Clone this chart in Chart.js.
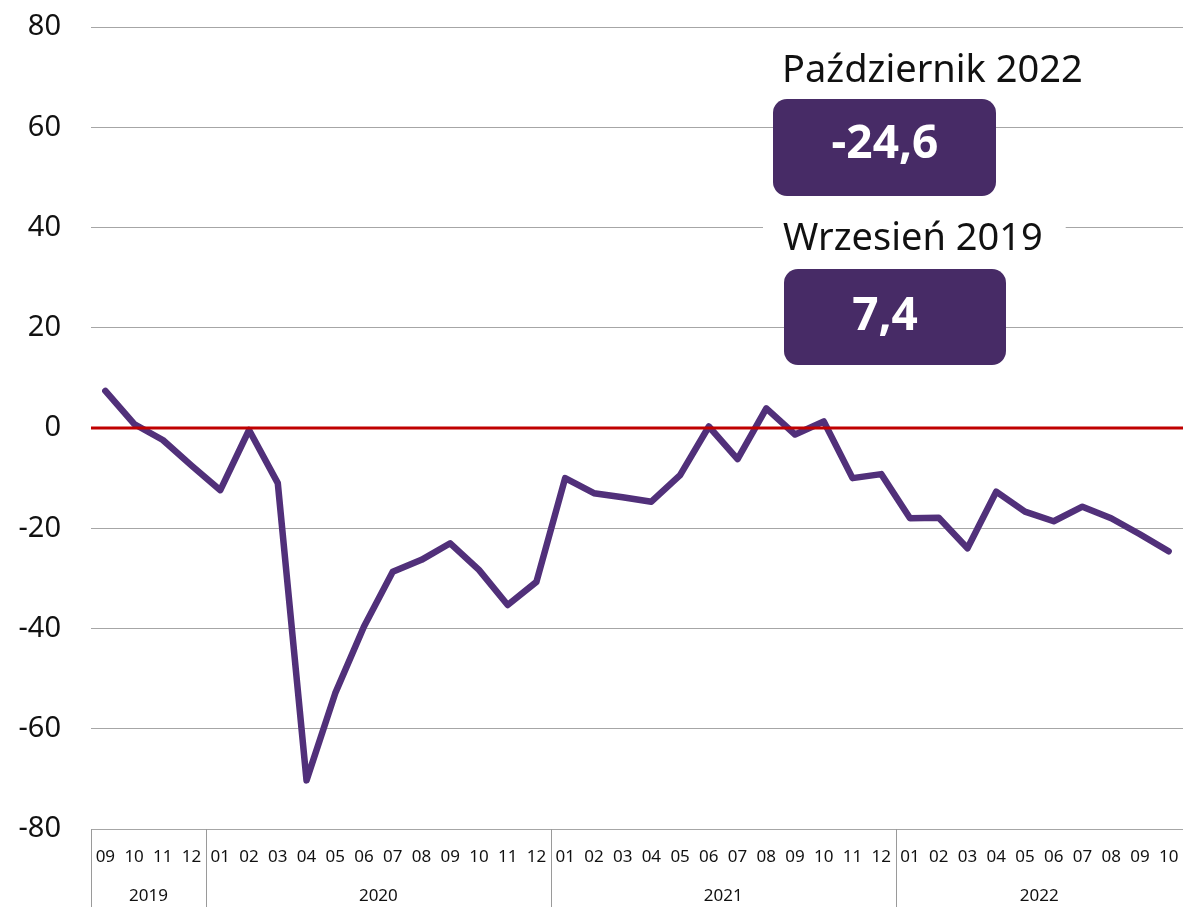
<!DOCTYPE html>
<html>
<head>
<meta charset="utf-8">
<script src="https://cdn.jsdelivr.net/npm/chart.js@4.4.0/dist/chart.umd.min.js"></script>
<style>
  html, body { margin: 0; padding: 0; background: #fff; }
  canvas { display: block; }
</style>
</head>
<body>
<canvas id="chart" width="1183" height="907"></canvas>
<script>
// months shown on the axis, grouped by year
const months = ['09', '10', '11', '12',
  '01', '02', '03', '04', '05', '06', '07', '08', '09', '10', '11', '12',
  '01', '02', '03', '04', '05', '06', '07', '08', '09', '10', '11', '12',
  '01', '02', '03', '04', '05', '06', '07', '08', '09', '10'];
const years = ['2019', '2020', '2021', '2022'];
const monthsPerYear = [4, 12, 12, 10];

const values = [7.4, 0.8, -2.4, -7.5,
  -12.4, -0.4, -11.0, -70.3, -52.9, -39.6, -28.7, -26.3, -23.0, -28.3, -35.3, -30.7,
  -10.0, -13.0, -13.8, -14.7, -9.4, 0.3, -6.2, 3.9, -1.3, 1.3, -10.0, -9.2,
  -18.0, -17.9, -24.0, -12.7, -16.7, -18.6, -15.7, -18.0, -21.2, -24.6];

const yMin = -80, yMax = 80, yStep = 20;

// callouts: title + index of the value shown in the box
const calloutTitles = ['Październik 2022', 'Wrzesień 2019'];
const calloutIndex = [values.length - 1, 0];

const FONT = 'Noto Sans';
const boxColor = '#472b66';

function fmt(v) {
  return v.toFixed(1).replace('.', ',');
}

const extras = {
  id: 'extras',
  afterDatasetsDraw(chart) {
    const { ctx, chartArea, scales: { x, y } } = chart;
    ctx.save();

    // zero line
    const y0 = y.getPixelForValue(0);
    ctx.strokeStyle = '#c00000';
    ctx.lineWidth = 3;
    ctx.beginPath();
    ctx.moveTo(chartArea.left, y0);
    ctx.lineTo(chartArea.right, y0);
    ctx.stroke();

    // year separators and labels under the months
    ctx.strokeStyle = '#9a9a9a';
    ctx.lineWidth = 1;
    ctx.fillStyle = '#111';
    ctx.font = '17px "' + FONT + '"';
    ctx.textAlign = 'center';
    ctx.textBaseline = 'middle';
    let start = 0;
    years.forEach((yr, i) => {
      const end = start + monthsPerYear[i] - 1;
      const sepX = i === 0 ? chartArea.left
        : (x.getPixelForTick(start - 1) + x.getPixelForTick(start)) / 2;
      ctx.beginPath();
      ctx.moveTo(Math.round(sepX) + 0.5, chartArea.bottom);
      ctx.lineTo(Math.round(sepX) + 0.5, chart.height);
      ctx.stroke();
      const cx = (x.getPixelForTick(start) + x.getPixelForTick(end)) / 2;
      ctx.fillText(yr, cx, chartArea.bottom + 67);
      start = end + 1;
    });
    ctx.restore();
  },
  afterDraw(chart) {
    const { ctx } = chart;
    const spots = [
      { tx: 782, ty: 82, bx: 773, by: 99, bw: 223, bh: 97, vy: 158 },
      { tx: 783, ty: 250, bx: 784, by: 269, bw: 222, bh: 96, vy: 330 }
    ];
    ctx.save();
    calloutTitles.forEach((title, i) => {
      const s = spots[i];
      ctx.font = '38px "' + FONT + '"';
      const w = ctx.measureText(title).width;
      ctx.fillStyle = '#fff';
      ctx.fillRect(s.tx - 20, s.ty - 34, w + 43, 44);
      ctx.fillStyle = '#111';
      ctx.textAlign = 'left';
      ctx.textBaseline = 'alphabetic';
      ctx.fillText(title, s.tx, s.ty);

      ctx.fillStyle = boxColor;
      ctx.beginPath();
      ctx.roundRect(s.bx, s.by, s.bw, s.bh, 14);
      ctx.fill();

      ctx.fillStyle = '#fff';
      ctx.font = 'bold 46px "' + FONT + '"';
      ctx.textAlign = 'center';
      ctx.fillText(fmt(values[calloutIndex[i]]), 885, s.vy);
    });
    ctx.restore();
  }
};

new Chart(document.getElementById('chart'), {
  type: 'line',
  data: {
    labels: months,
    datasets: [{
      data: values,
      borderColor: '#51307a',
      borderWidth: 6.5,
      pointRadius: 0,
      tension: 0,
      fill: false,
      borderCapStyle: 'round',
      borderJoinStyle: 'round'
    }]
  },
  options: {
    responsive: false,
    animation: false,
    layout: { padding: { top: 27, right: 0, bottom: 0, left: 0 } },
    plugins: {
      legend: { display: false },
      tooltip: { enabled: false }
    },
    scales: {
      x: {
        offset: true,
        grid: { display: false, drawTicks: false },
        border: { display: false },
        ticks: {
          autoSkip: false,
          maxRotation: 0,
          color: '#111',
          font: { family: FONT, size: 17 },
          padding: 18
        },
        afterFit(scale) {
          scale.height = 78;
          scale.paddingLeft = 0;
          scale.paddingRight = 0;
        }
      },
      y: {
        min: yMin,
        max: yMax,
        grid: { color: '#a6a6a6', lineWidth: 1, drawTicks: false },
        border: { display: false },
        ticks: {
          stepSize: yStep,
          color: '#111',
          font: { family: FONT, size: 29 },
          padding: 30
        },
        afterFit(scale) {
          scale.width = 91;
          scale.paddingTop = 0;
          scale.paddingBottom = 0;
        }
      }
    }
  },
  plugins: [extras]
});
</script>
</body>
</html>
